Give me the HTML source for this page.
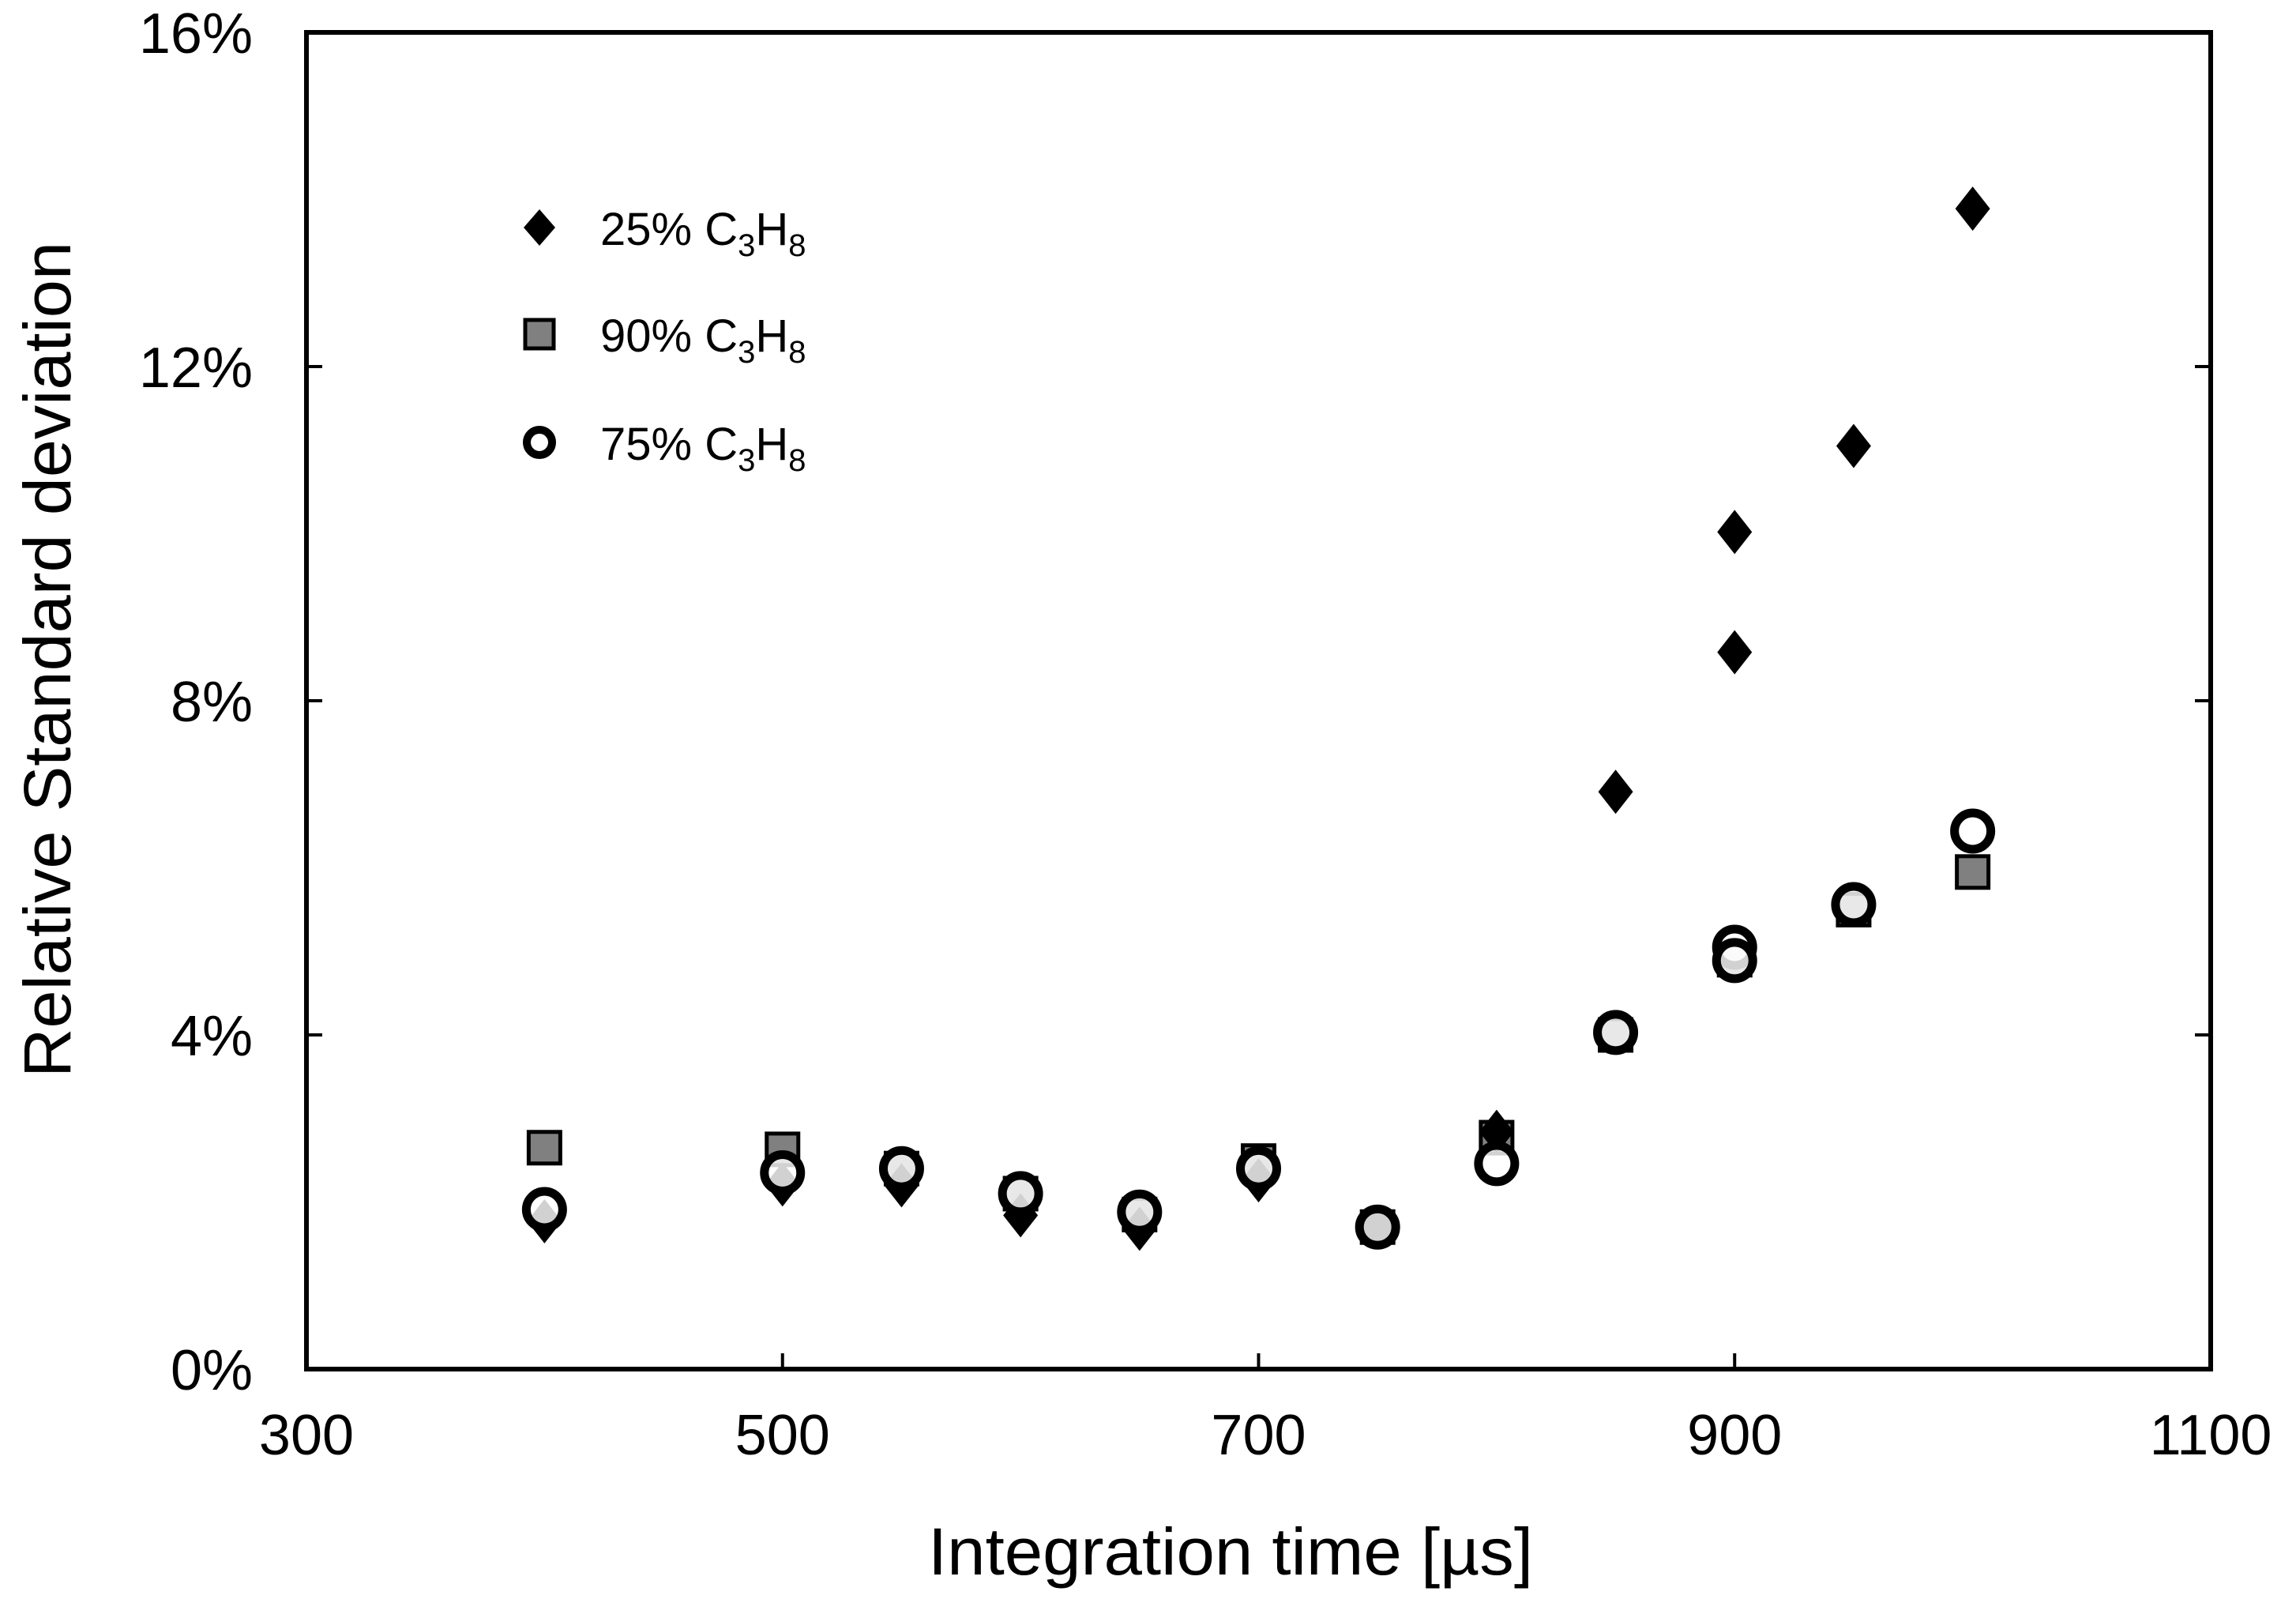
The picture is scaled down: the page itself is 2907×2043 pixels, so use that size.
<!DOCTYPE html>
<html><head><meta charset="utf-8"><style>
html,body{margin:0;padding:0;background:#fff;}
svg{display:block;font-family:"Liberation Sans",Arial,sans-serif;}
</style></head><body>
<svg id="chart" width="2907" height="2043" viewBox="0 0 2907 2043" xmlns="http://www.w3.org/2000/svg">
<rect width="2907" height="2043" fill="#fff"/>
<g id="marks"></g>
<g id="axes"></g>
<g>
  <g>
    <path d="M683,265 L703,288 L683,311 L663,288 Z" fill="#000"/>
    <text x="760" y="310" font-size="58">25% C<tspan font-size="40" dy="14">3</tspan><tspan dy="-14">H</tspan><tspan font-size="40" dy="14">8</tspan></text>
  </g>
  <g>
    <rect x="665" y="405" width="36" height="36" fill="#808080" stroke="#000" stroke-width="5"/>
    <text x="760" y="445" font-size="58">90% C<tspan font-size="40" dy="14">3</tspan><tspan dy="-14">H</tspan><tspan font-size="40" dy="14">8</tspan></text>
  </g>
  <g>
    <circle cx="683" cy="560" r="16" fill="#fff" stroke="#000" stroke-width="10"/>
    <text x="760" y="582" font-size="58">75% C<tspan font-size="40" dy="14">3</tspan><tspan dy="-14">H</tspan><tspan font-size="40" dy="14">8</tspan></text>
  </g>
</g>
<text x="1558" y="1993" font-size="84" text-anchor="middle" textLength="766" lengthAdjust="spacingAndGlyphs">Integration time [µs]</text>
<text x="0" y="0" font-size="84" text-anchor="middle" textLength="1058" lengthAdjust="spacingAndGlyphs" transform="translate(89,835) rotate(-90)">Relative Standard deviation</text>
</svg>
<script>
const xTicks = [300, 500, 700, 900, 1100];
const yTicks = [0, 4, 8, 12, 16];
const x25 = [400, 500, 550, 600, 650, 700, 750, 800, 850, 900, 900, 950, 1000];
const y25 = [1.77, 2.21, 2.2, 1.84, 1.68, 2.26, 1.7, 2.84, 6.91, 10.02, 8.58, 11.05, 13.89];
const x90 = [400, 500, 550, 600, 650, 700, 750, 800, 850, 900, 950, 1000];
const y90 = [2.65, 2.63, 2.4, 2.1, 1.85, 2.49, 1.7, 2.77, 4.0, 4.9, 5.5, 5.95];
const x75 = [400, 500, 550, 600, 650, 700, 750, 800, 850, 900, 900, 950, 1000];
const y75 = [1.91, 2.35, 2.40, 2.1, 1.88, 2.4, 1.70, 2.46, 4.03, 5.05, 4.89, 5.56, 6.44];

const L = 388, R = 2799, T = 41, B = 1733;
const NS = 'http://www.w3.org/2000/svg';
function sx(v){ return L + (v - 300) / 800 * (R - L); }
function sy(v){ return B - v / 16 * (B - T); }
function mk(tag, attrs, parent){
  const e = document.createElementNS(NS, tag);
  for (const k in attrs) e.setAttribute(k, attrs[k]);
  parent.appendChild(e);
  return e;
}
const marks = document.getElementById('marks');
const axes = document.getElementById('axes');

x90.forEach((xv, i) => {
  const cx = sx(xv), cy = sy(y90[i]);
  const el = mk('rect', {x: cx - 20, y: cy - 20, width: 40, height: 40, fill: '#808080', stroke: '#000', 'stroke-width': 5}, marks);
  
  
});
x25.forEach((xv, i) => {
  const cx = sx(xv), cy = sy(y25[i]);
  const el = mk('path', {d: `M${cx},${cy-28} L${cx+22},${cy} L${cx},${cy+28} L${cx-22},${cy} Z`, fill: '#000'}, marks);
  
  
});
x75.forEach((xv, i) => {
  const cx = sx(xv), cy = sy(y75[i]);
  const el = mk('circle', {cx: cx, cy: cy, r: 23, fill: '#fff', 'fill-opacity': 0.82, stroke: '#000', 'stroke-width': 11}, marks);
  
  
});

const frame = mk('rect', {x: L, y: T, width: R - L, height: B - T, fill: 'none', stroke: '#000', 'stroke-width': 6}, axes);



xTicks.forEach(v => {
  const x = sx(v);
  if (v > 300 && v < 1100) {
    const t = mk('line', {x1: x, y1: B, x2: x, y2: B - 20, stroke: '#000', 'stroke-width': 4}, axes);
    
    
  }
  const lab = mk('text', {x: x, y: B + 108, 'font-size': 72, 'text-anchor': 'middle'}, axes);
  lab.textContent = String(v);
  
  
});
yTicks.forEach(v => {
  const y = sy(v);
  if (v > 0 && v < 16) {
    const t1 = mk('line', {x1: L, y1: y, x2: L + 20, y2: y, stroke: '#000', 'stroke-width': 4}, axes);
    
    
    const t2 = mk('line', {x1: R, y1: y, x2: R - 20, y2: y, stroke: '#000', 'stroke-width': 4}, axes);
    
    
  }
  const lab = mk('text', {x: 320, y: y + 26, 'font-size': 72, 'text-anchor': 'end'}, axes);
  lab.textContent = v + '%';
  
  
});
</script>
</body></html>
